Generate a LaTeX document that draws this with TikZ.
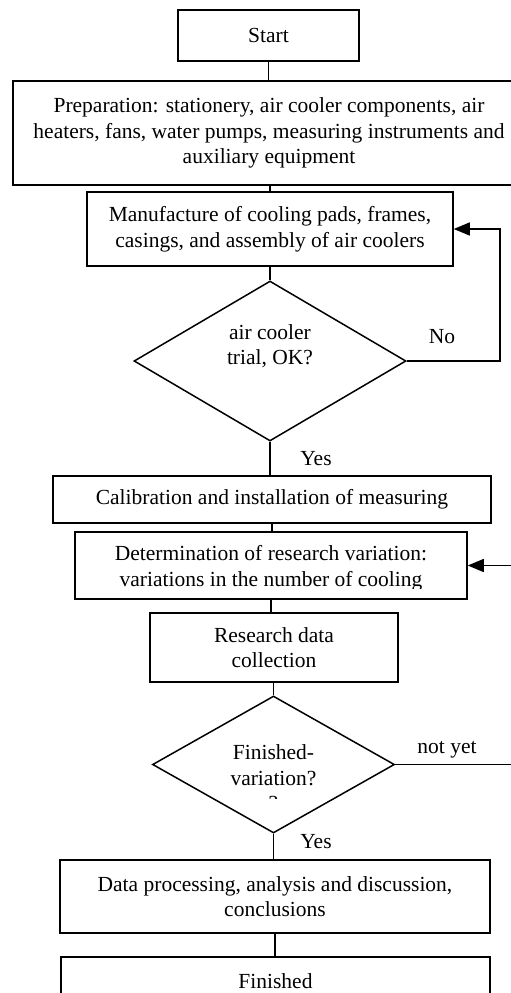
\documentclass[tikz,border=0pt]{standalone}
\usepackage{fontspec}
\setmainfont{Liberation Serif}
\usetikzlibrary{shapes.geometric,arrows.meta}

\begin{document}
\begin{tikzpicture}[x=1pt, y=-1pt,
    box/.style={rectangle, draw, line width=1.5pt, inner sep=0pt, align=center, font=\fontsize{21.5}{25.5}\selectfont},
    decision/.style={diamond, draw, line width=1.5pt, inner sep=0pt},
    txt/.style={align=center, inner sep=0pt, font=\fontsize{21.5}{25.5}\selectfont},
    link/.style={line width=1.5pt},
    arrow/.style={-{Triangle[length=16pt,width=13pt]}, line width=1.5pt}
]
    \clip (0,0) rectangle (511,993);

    % Upper part
    \node[box, minimum width=181pt, minimum height=51pt] (start) at (268.5,35.5) {Start};
    \node[box, minimum width=512pt, minimum height=104pt] (prep) at (269,133) {Preparation: stationery, air cooler components, air\\heaters, fans, water pumps, measuring instruments and\\auxiliary equipment};
    \node[box, minimum width=366pt, minimum height=74pt] (manu) at (270,229) {Manufacture of cooling pads, frames,\\casings, and assembly of air coolers};
    \node[decision, minimum width=272pt, minimum height=160pt] (trial) at (270,361) {};
    \node[txt] (trialtext) at (270,346) {air cooler\\trial, OK?};

    % Middle part
    \node[box, minimum width=438pt, minimum height=47pt] (calib) at (272,499.5) {Calibration and installation of measuring};
    \node[box, minimum width=392pt, minimum height=67pt] (determ) at (271,565.5) {};
    \begin{scope}
        \clip (75,532) rectangle (467,588);
        \node[txt] (determtext) at (271,568) {Determination of research variation:\\variations in the number of cooling};
    \end{scope}
    \node[box, minimum width=248pt, minimum height=69pt] (collect) at (274,647.5) {Research data\\collection};
    \node[decision, minimum width=242pt, minimum height=137pt] (finvar) at (273.5,764.5) {};
    \begin{scope}
        \clip (152,696) rectangle (394,798);
        \node[txt] (finvartext) at (273.5,778) {Finished-\\variation?\\?};
    \end{scope}

    % Lower part
    \node[box, minimum width=430pt, minimum height=73pt] (dataproc) at (275,896.5) {Data processing, analysis and discussion,\\conclusions};
    \node[box, minimum width=429pt, minimum height=48pt] (finish) at (275.5,981) {Finished};

    % Connectors
    \draw[link] (start.south) -- (start.south |- prep.north);
    \draw[link] (prep.south -| manu.north) -- (manu.north);
    \draw[link] (manu.south) -- (trial.north);
    \draw[link] (trial.south) -- (trial.south |- calib.north);
    \draw[link] (calib.south) -- (calib.south |- determ.north);
    \draw[link] (determ.south) -- (determ.south |- collect.north);
    \draw[link] (collect.south -| finvar.north) -- (finvar.north);
    \draw[link] (finvar.south) -- (finvar.south |- dataproc.north);
    \draw[link] (dataproc.south) -- (dataproc.south |- finish.north);

    % Loops back
    \coordinate (nocorner) at (500,361);
    \coordinate (notyetcorner) at (530,764.5);
    \draw[arrow] (trial.east) -- (nocorner) |- (manu.east);
    \draw[arrow] (finvar.east) -- (notyetcorner) |- (determ.east);

    % Labels
    \node[anchor=base, txt] (nolabel) at (442,343) {No};
    \node[anchor=base, txt] (yeslabel) at (316,465) {Yes};
    \node[anchor=base, txt] (notyetlabel) at (447,753) {not yet};
    \node[anchor=base, txt] (yeslabeltwo) at (316,848) {Yes};
\end{tikzpicture}
\end{document}
